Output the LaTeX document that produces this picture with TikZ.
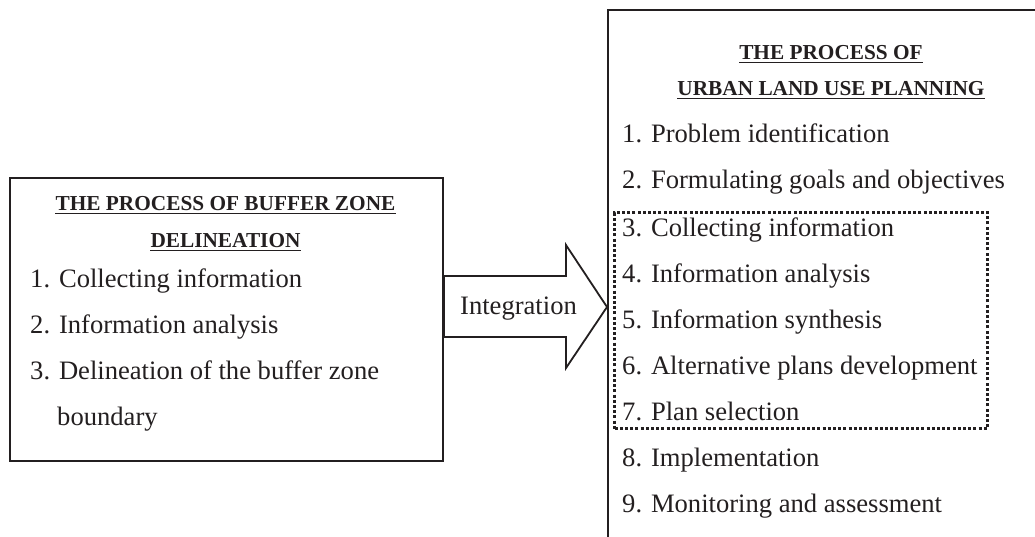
\documentclass[tikz,border=0pt]{standalone}
\usepackage{fontspec}
\setmainfont{Liberation Serif}
\definecolor{ink}{HTML}{231F20}
\begin{document}
\begin{tikzpicture}[x=1pt,y=-1pt,
  item/.style={anchor=base west, inner sep=0pt, font=\fontsize{26.6}{30}\selectfont, text=ink},
  head/.style={anchor=base, inner sep=0pt, font=\fontsize{21.3}{24}\selectfont\bfseries, text=ink},
  frame/.style={draw=ink, line width=1.6pt, inner sep=0pt, anchor=north west},
  ul/.style={draw=ink, line width=1.4pt},
  selbox/.style={draw=ink, line width=3.2pt, dash pattern=on 3pt off 2.2pt, inner sep=0pt, anchor=north west},
  blockarrow/.style={draw=ink, line width=1.8pt, line join=miter}]
\clip (0,0) rectangle (1035,536);
% boxes
\node[frame, minimum width=433pt, minimum height=283pt] (lbox) at (9,177) {};
\node[frame, minimum width=470pt, minimum height=600pt] (rbox) at (607,9) {};
\node[selbox, minimum width=373pt, minimum height=216pt] (sel) at (613,211) {};
% left box text
\node[head] (lh1) at (225.5,210) {THE PROCESS OF BUFFER ZONE};
\node[head] (lh2) at (225.5,247) {DELINEATION};
\draw[ul] ([yshift=-3.5pt]lh1.base west) -- ([yshift=-3.5pt]lh1.base east);
\draw[ul] ([yshift=-3.5pt]lh2.base west) -- ([yshift=-3.5pt]lh2.base east);
\node[item] (l1) at (30,287) {1. Collecting information};
\node[item] (l2) at (30,333) {2. Information analysis};
\node[item] (l3) at (30,379) {3. Delineation of the buffer zone};
\node[item] (l4) at (57,425) {boundary};
% arrow
\draw[blockarrow] (444,276) -- (566,276) -- (566,245) -- (607,307) -- (566,368) -- (566,337) -- (444,337) -- cycle;
\node[anchor=base, inner sep=0pt, font=\fontsize{26.6}{30}\selectfont, text=ink] (integ) at (518.5,314) {Integration};
% right box text
\node[head] (rh1) at (831,59) {THE PROCESS OF};
\node[head] (rh2) at (831,95) {URBAN LAND USE PLANNING};
\draw[ul] ([yshift=-3.5pt]rh1.base west) -- ([yshift=-3.5pt]rh1.base east);
\draw[ul] ([yshift=-3.5pt]rh2.base west) -- ([yshift=-3.5pt]rh2.base east);
\node[item] (r1) at (622,142) {1. Problem identification};
\node[item] (r2) at (622,188) {2. Formulating goals and objectives};
\node[item] (r3) at (622,236) {3. Collecting information};
\node[item] (r4) at (622,282) {4. Information analysis};
\node[item] (r5) at (622,328) {5. Information synthesis};
\node[item] (r6) at (622,374) {6. Alternative plans development};
\node[item] (r7) at (622,420) {7. Plan selection};
\node[item] (r8) at (622,466) {8. Implementation};
\node[item] (r9) at (622,512) {9. Monitoring and assessment};
\end{tikzpicture}
\end{document}
